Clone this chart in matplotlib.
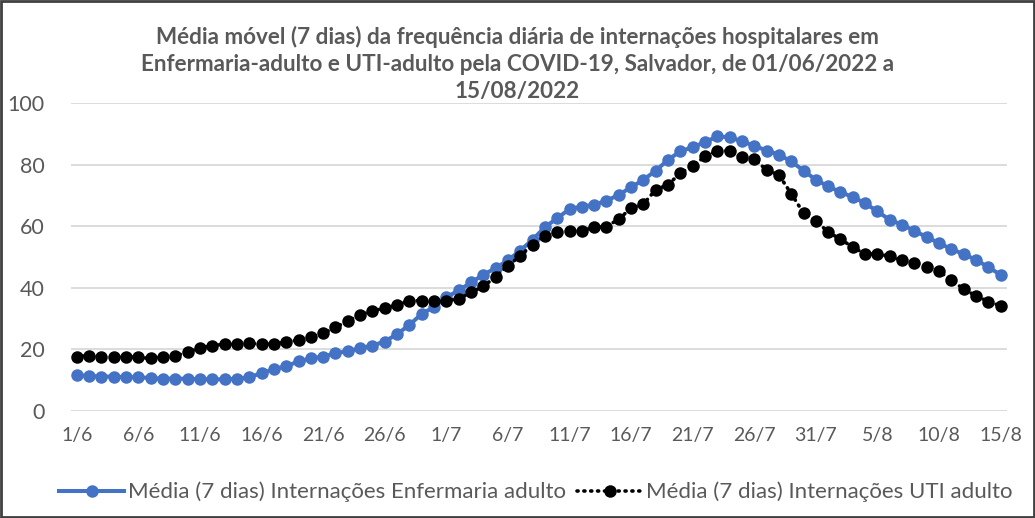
import matplotlib
matplotlib.use("Agg")
import matplotlib.pyplot as plt
from matplotlib.patches import Rectangle

plt.rcParams["font.family"] = ["Lato", "DejaVu Sans"]

# 7-day moving averages, one value per day from 01/06/2022 to 15/08/2022
enfermaria = [
    11.6, 11.3, 11.1, 11.1, 10.9, 10.9, 10.6, 10.4, 10.4, 10.4,
    10.2, 10.2, 10.2, 10.4, 10.9, 12.2, 13.5, 14.5, 16.0, 17.0,
    17.6, 18.7, 19.4, 20.3, 21.2, 22.5, 24.9, 27.9, 31.5, 33.7,
    36.9, 39.1, 41.7, 44.2, 46.4, 48.9, 52.1, 55.6, 59.7, 62.6,
    65.6, 66.4, 67.0, 68.3, 70.2, 72.7, 75.1, 78.1, 81.6, 84.4,
    85.7, 87.4, 89.2, 89.0, 87.6, 86.2, 84.6, 83.3, 81.1, 78.1,
    75.1, 73.0, 71.1, 69.5, 67.5, 64.8, 62.1, 60.5, 58.5, 56.5,
    54.5, 52.6, 50.9, 49.1, 46.7, 44.2,
]
uti = [
    17.6, 17.9, 17.6, 17.6, 17.6, 17.3, 17.0, 17.6, 17.9, 19.0,
    20.5, 21.1, 21.7, 21.7, 21.9, 21.7, 21.7, 22.3, 23.0, 24.1,
    25.2, 27.1, 29.2, 31.2, 32.5, 33.3, 34.4, 35.8, 35.8, 35.8,
    35.8, 36.3, 38.5, 40.4, 43.6, 47.1, 50.4, 54.0, 56.9, 58.0,
    58.5, 58.5, 59.7, 59.9, 62.3, 65.9, 67.2, 71.9, 73.5, 77.3,
    79.6, 82.7, 84.6, 84.6, 82.4, 81.9, 78.3, 76.7, 70.6, 64.3,
    61.8, 58.1, 55.8, 53.2, 51.0, 51.0, 50.2, 48.9, 48.2, 46.9,
    45.3, 42.6, 39.5, 37.4, 35.5, 34.1,
]
x_labels = ["1/6", "6/6", "11/6", "16/6", "21/6", "26/6", "1/7", "6/7",
            "11/7", "16/7", "21/7", "26/7", "31/7", "5/8", "10/8", "15/8"]
y_ticks = [0, 20, 40, 60, 80, 100]

title = ("Média móvel (7 dias) da frequência diária de internações hospitalares em\n"
         "Enfermaria-adulto e UTI-adulto pela COVID-19, Salvador, de 01/06/2022 a\n"
         "15/08/2022")
label_enf = "Média (7 dias) Internações Enfermaria adulto"
label_uti = "Média (7 dias) Internações UTI adulto"

gray = "#595959"
blue = "#4472C4"

fig = plt.figure(figsize=(10.35, 5.18), dpi=100)
ax = fig.add_axes([0.0683, 0.2072, 0.9044, 0.5934])

days = list(range(len(enfermaria)))
ax.plot(days, enfermaria, color=blue, linewidth=2.9, marker="o",
        markersize=9, markeredgewidth=0, label=label_enf, zorder=3)
ax.plot(days, uti, color="black", linewidth=2.6, linestyle=(0, (0.3, 1.6)),
        dash_capstyle="round", marker="o", markersize=9,
        markeredgewidth=0, label=label_uti, zorder=4)

ax.set_xlim(-0.5, len(days) - 0.5)
ax.set_ylim(0, 100)
ax.set_xticks(days[::5])
ax.set_xticklabels(x_labels)
ax.set_yticks(y_ticks)
ax.tick_params(axis="y", length=0, pad=19, labelsize=15.5, labelcolor=gray)
ax.tick_params(axis="x", length=0, pad=12, labelsize=14, labelcolor=gray)
ax.grid(axis="y", color="#D9D9D9", linewidth=1.3)
ax.set_axisbelow(True)
for s in ax.spines.values():
    s.set_visible(False)

fig.text(0.5, 0.95, title, ha="center", va="top", fontsize=16.2,
         fontweight="bold", color=gray, linespacing=1.34)

fig.legend(loc="center", bbox_to_anchor=(0.518, 0.05), ncol=2, frameon=False,
           fontsize=16, labelcolor=gray, handlelength=2.9,
           handletextpad=0.2, columnspacing=0.5)

fig.add_artist(Rectangle((0.001, 0.001), 0.998, 0.998, transform=fig.transFigure,
                         fill=False, edgecolor="#404040", linewidth=2))

fig.savefig("out.png", dpi=100)
